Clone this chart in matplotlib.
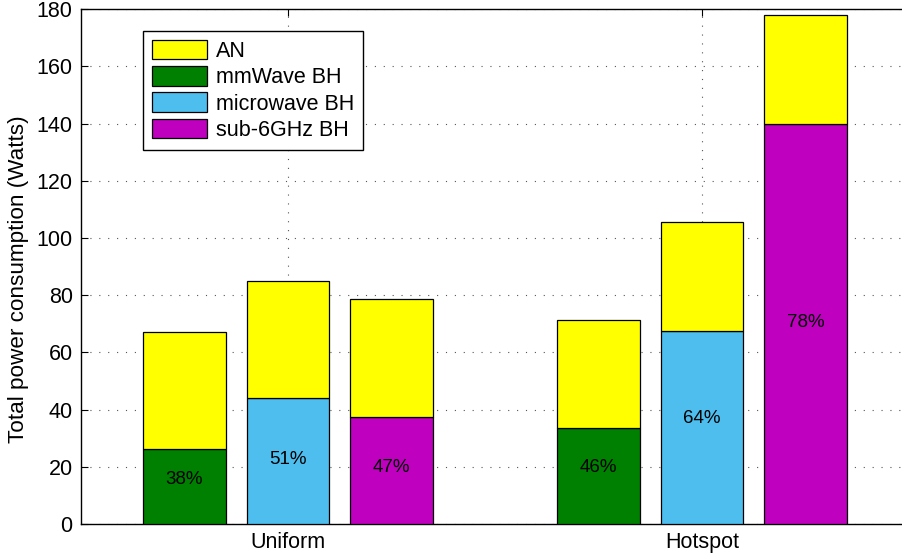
import matplotlib
matplotlib.use("Agg")
import matplotlib.pyplot as plt
from matplotlib.patches import Patch
import numpy as np

plt.rcParams['font.family'] = ['Liberation Sans', 'DejaVu Sans']

# Scenarios and the backhaul technology used in each bar of a group
scenarios = ["Uniform", "Hotspot"]
backhaul = ["mmWave BH", "microwave BH", "sub-6GHz BH"]

# Backhaul power (Watts), per scenario, per backhaul technology
bh_power = {
    "Uniform": [26.2, 44.1, 37.4],
    "Hotspot": [33.5, 67.6, 140.0],
}
# Total power (access network + backhaul), Watts
total_power = {
    "Uniform": [67.2, 84.9, 78.6],
    "Hotspot": [71.3, 105.5, 178.0],
}

an_color = "#FFFF00"
bh_colors = ["#008000", "#4DBEEE", "#BF00BF"]

# height (Watts) at which each share label sits inside its backhaul segment
label_y = {
    "Uniform": [15.4, 22.7, 19.9],
    "Hotspot": [19.9, 37.0, 70.4],
}

fig = plt.figure(figsize=(9.03, 5.56), dpi=100)
ax = fig.add_axes([81 / 903, 32 / 556, (909 - 81) / 903, (524 - 9.3) / 556])

width = 0.2
offsets = [-0.25, 0.0, 0.25]
group_x = np.arange(1, len(scenarios) + 1)

for gi, sc in enumerate(scenarios):
    for bi in range(len(backhaul)):
        x = group_x[gi] + offsets[bi]
        bh = bh_power[sc][bi]
        tot = total_power[sc][bi]
        ax.bar(x, bh, width, color=bh_colors[bi], edgecolor="black",
               linewidth=0.9, zorder=3)
        ax.bar(x, tot - bh, width, bottom=bh, color=an_color,
               edgecolor="black", linewidth=0.9, zorder=3)
        share = int(100 * bh / tot)
        ax.text(x, label_y[sc][bi], f"{share}%", ha="center", va="center",
                fontsize=13.5, color="black", zorder=4)

ax.set_xlim(0.5, 2.5)
ax.set_ylim(0, 180)
ax.set_yticks(np.arange(0, 181, 20))
ax.set_xticks(group_x)
ax.set_xticklabels(scenarios)
ax.tick_params(axis="both", direction="in", length=5, width=0.8,
               labelsize=15.5, pad=6, top=True, right=False)
ax.set_ylabel("Total power consumption (Watts)", fontsize=16.2)
ax.yaxis.set_label_coords(-0.063, 0.476)

ax.grid(True, linestyle=(0, (1, 7)), color="#555555", linewidth=0.8, zorder=0)
ax.set_axisbelow(True)
for side in ["left", "bottom", "top"]:
    ax.spines[side].set_linewidth(1.0)
ax.spines["right"].set_visible(False)

handles = [Patch(facecolor=an_color, edgecolor="black", linewidth=0.9, label="AN")]
handles += [Patch(facecolor=c, edgecolor="black", linewidth=0.9, label=l)
            for c, l in zip(bh_colors, backhaul)]
leg = ax.legend(handles=handles, loc="upper left",
                bbox_to_anchor=((143 - 81) / 828, (524 - 31) / 514.7),
                fontsize=15.5, frameon=True, fancybox=False, framealpha=1,
                edgecolor="black", handlelength=2.56, handleheight=1.02,
                handletextpad=0.45, labelspacing=0.2, borderpad=0.4,
                borderaxespad=0)
leg.get_frame().set_linewidth(1.0)

fig.savefig("out.png", dpi=100)
